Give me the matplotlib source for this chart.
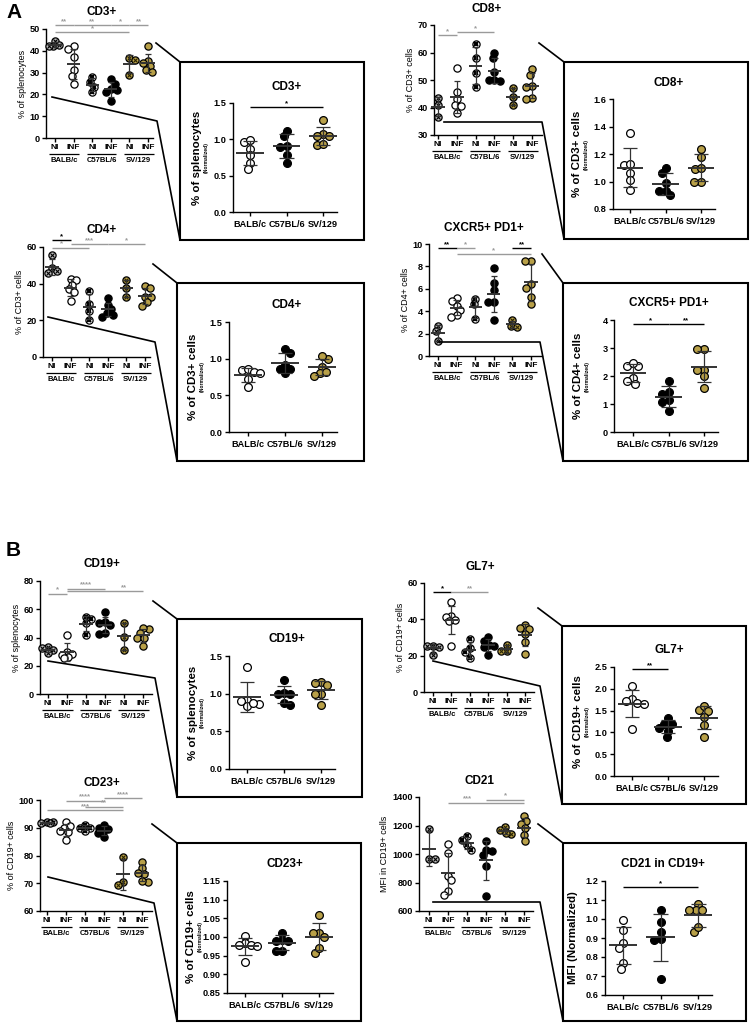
import numpy as np
import matplotlib
matplotlib.use('Agg')
import matplotlib.pyplot as plt
from matplotlib.lines import Line2D
from matplotlib.patches import Rectangle
import matplotlib.transforms as mtrans
from matplotlib import font_manager

names = {f.name for f in font_manager.fontManager.ttflist}
NARROW = 'Liberation Sans Narrow' in names
plt.rcParams['font.family'] = ['Liberation Sans Narrow' if NARROW else 'Liberation Sans', 'DejaVu Sans']
plt.rcParams['font.weight'] = 'bold'
K = 1.0 if NARROW else 0.86

# ---------------- data ----------------
strains = ['BALB/c', 'C57BL/6', 'SV/129']
conditions = ['NI', 'INF']

cd3_raw = [[44.5, 42.0, 42.5, 42.0], [42, 41, 37, 31, 28.5, 25], [28, 25.5, 23.5, 21],
           [27, 25, 22.5, 22, 21, 17], [36.5, 36, 29], [42, 35.5, 34.5, 33, 31, 30.5]]
cd3_norm = [[0.97, 0.99, 0.87, 0.78, 0.67, 0.59], [1.04, 1.12, 0.91, 0.90, 0.79, 0.68],
            [1.26, 1.08, 1.04, 1.05, 0.92, 0.93]]
cd8_raw = [[43.5, 41, 36.5], [54.5, 45.5, 43, 41, 40.5, 38], [63, 58, 52.5, 47.5],
           [60, 58, 53, 50, 50, 49.5], [47, 44, 41], [54, 52, 48, 47.5, 43.5, 43]]
cd8_norm = [[1.35, 1.12, 1.13, 1.06, 1.01, 0.94], [1.06, 1.10, 0.93, 0.99, 0.90, 0.93],
            [1.24, 1.18, 1.09, 1.10, 1.00, 1.00]]
cd4_raw = [[55.5, 48.5, 47, 46], [42.5, 42, 39.5, 37, 35.5, 30.5], [36, 29, 25, 20],
           [32, 28.5, 26, 24, 23, 22], [42, 37.5, 33], [39, 37.5, 33, 32.5, 30, 28]]
cd4_norm = [[0.84, 0.86, 0.82, 0.80, 0.72, 0.62], [1.08, 1.13, 0.91, 0.86, 0.86, 0.80],
            [1.00, 1.04, 0.89, 0.81, 0.82, 0.76]]
tfh_raw = [[2.7, 2.2, 1.3], [5.2, 4.9, 4.5, 4.1, 3.7, 3.5], [5.1, 4.6, 3.3],
           [7.9, 6.5, 5.9, 4.8, 4.8, 3.2], [3.2, 2.7, 2.6], [8.5, 8.5, 6.4, 6.1, 5.3, 4.6]]
tfh_norm = [[2.35, 2.36, 2.48, 1.94, 1.73, 1.82], [1.83, 1.43, 1.34, 1.15, 1.07, 0.74],
            [2.97, 2.97, 2.23, 2.23, 2.0, 1.58]]
cd19_raw = [[33.5, 32.5, 31, 29], [42, 29.5, 28, 27.5, 26, 25.5], [54.5, 53, 50, 42],
            [58, 51, 50, 49, 43.5, 42.5], [50.5, 40.5, 31.5], [46, 46.5, 43, 39.5, 40, 34]]
cd19_norm = [[1.36, 0.92, 0.90, 0.86, 0.83, 0.88], [1.18, 1.01, 1.0, 1.0, 0.85, 0.88],
             [1.16, 1.14, 1.12, 1.0, 1.0, 0.85]]
gl7_raw = [[25.5, 25.5, 25, 20.5], [49.5, 42, 41.5, 39.5, 39, 25.5], [29, 24, 22, 18.5],
           [30.5, 28, 26, 25.5, 24.5, 20.5], [26, 22.5, 22.5], [37, 35.5, 34.5, 32, 27.5, 21]]
gl7_norm = [[2.06, 1.76, 1.68, 1.66, 1.73, 1.08], [1.32, 1.2, 1.2, 1.1, 1.04, 0.9],
            [1.51, 1.6, 1.49, 1.36, 1.17, 0.9]]
cd23_raw = [[92.2, 91.9, 91.6, 91.7], [92, 90.5, 90, 89, 88.5, 85.5], [91, 90, 90, 88.8],
            [91, 90, 89.5, 88.5, 88, 86.5], [79.5, 70.5, 69.5], [77.8, 75.4, 73.5, 73.8, 70.6, 70.8]]
cd23_norm = [[1.002, 0.985, 0.978, 0.978, 0.975, 0.933], [1.012, 0.99, 0.993, 0.99, 0.962, 0.963],
             [1.059, 1.01, 1.01, 1.0, 0.958, 0.97]]
cd21_raw = [[1178, 968, 965], [1068, 1010, 848, 815, 740, 712], [1125, 1100, 1060, 1030],
            [1090, 1025, 1020, 990, 915, 703], [1190, 1170, 1140, 1150], [1268, 1230, 1210, 1180, 1130, 1090]]
cd21_norm = [[0.997, 0.94, 0.875, 0.85, 0.767, 0.737], [1.046, 0.985, 0.929, 0.894, 0.892, 0.682],
             [1.081, 1.05, 1.05, 1.05, 0.932, 0.958]]

# y tick values
cd3_raw_yticks = [0, 10, 20, 30, 40, 50]
cd3_norm_yticks = [0.0, 0.5, 1.0, 1.5]
cd8_raw_yticks = [30, 40, 50, 60, 70]
cd8_norm_yticks = [0.8, 1.0, 1.2, 1.4, 1.6]
cd4_raw_yticks = [0, 20, 40, 60]
cd4_norm_yticks = [0.0, 0.5, 1.0, 1.5]
tfh_raw_yticks = [0, 2, 4, 6, 8, 10]
tfh_norm_yticks = [0, 1, 2, 3, 4]
cd19_raw_yticks = [0, 20, 40, 60, 80]
cd19_norm_yticks = [0.0, 0.5, 1.0, 1.5]
gl7_raw_yticks = [0, 20, 40, 60]
gl7_norm_yticks = [0.0, 0.5, 1.0, 1.5, 2.0, 2.5]
cd23_raw_yticks = [60, 70, 80, 90, 100]
cd23_norm_yticks = [0.85, 0.90, 0.95, 1.00, 1.05, 1.10, 1.15]
cd21_raw_yticks = [600, 800, 1000, 1200, 1400]
cd21_norm_yticks = [0.6, 0.7, 0.8, 0.9, 1.0, 1.1, 1.2]

# significance bars: (x1, x2, y, label, colour[, star x])
cd3_raw_sig = [(0, 1, 51.8, '**', 'g'), (1, 3, 51.8, '**', 'g'), (3, 4, 51.8, '*', 'g'),
               (4, 5, 51.8, '**', 'g'), (0, 4, 48.6, '*', 'g')]
cd3_norm_sig = [(0, 2, 1.44, '*', 'k')]
cd8_raw_sig = [(0, 1, 66.4, '*', 'g'), (1, 3, 67.4, '*', 'g')]
cd8_norm_sig = []
cd4_raw_sig = [(0, 1, 63.6, '*', 'k'), (0, 2, 59.6, '*', 'g', 0.5), (1, 3, 61.4, '***', 'g'),
               (3, 5, 61.4, '*', 'g')]
cd4_norm_sig = []
tfh_raw_sig = [(0, 1, 9.6, '**', 'k'), (1, 2, 9.6, '*', 'g'), (1, 5, 9.1, '*', 'g', 3),
               (4, 5, 9.6, '**', 'k')]
tfh_norm_sig = [(0, 1, 3.84, '*', 'k'), (1, 2, 3.84, '**', 'k')]
cd19_raw_sig = [(0, 1, 71.0, '*', 'g'), (1, 3, 74.6, '****', 'g'), (1, 5, 72.6, '**', 'g', 4)]
cd19_norm_sig = []
gl7_raw_sig = [(0, 1, 54.8, '*', 'k'), (1, 3, 54.8, '**', 'g')]
gl7_norm_sig = [(0, 1, 2.46, '**', 'k')]
cd23_raw_sig = [(1, 3, 99.8, '****', 'g'), (3, 5, 100.6, '****', 'g'), (2, 4, 97.6, '**', 'g'),
                (0, 4, 96.4, '***', 'g')]
cd23_norm_sig = []
cd21_raw_sig = [(1, 5, 1360, '***', 'g', 2), (3, 5, 1381, '*', 'g')]
cd21_norm_sig = [(0, 2, 1.168, '*', 'k')]

# ---------------- layout (pixels) ----------------
W, H = 752, 1026
fig = plt.figure(figsize=(W / 100, H / 100), dpi=100)
fig.patch.set_facecolor('white')

GOLD = '#b8a048'
FACE = ['white', 'black', GOLD]
NI_FACE = ['#bdbdbd', 'white', GOLD]
NI_X = [('k', 0.8), ('k', 1.5), ('#2a2400', 0.8)]
GRAY = '#9a9a9a'
ERR = '#333333'

FS_TITLE = 9.8 * K
FS_TICK = 7.6 * K
FS_COND = 7.0 * K
FS_GROUP = 6.4 * K
FS_YL_RAW = 7.5 * K
FS_YL_NORM = 9.6 * K
FS_SUB = 4.2 * K
FS_STAR = 6.5 * K

LAYOUT = [
    dict(raw=(46, 29, 153, 138), raw_t=(55, 148), title_raw=(102, 12),
         norm=(233, 103, 337, 212), norm_t=(250, 323), title_norm=(287, 87),
         frame=(180, 62, 364, 240), cone1=[(156, 43), (180, 62)], cone2=[(52, 97), (157, 121), (180, 240)]),
    dict(raw=(434, 25, 542, 135), raw_t=(438, 532), title_raw=(487, 9),
         norm=(613, 99, 715, 209), norm_t=(630, 701), title_norm=(669, 83),
         frame=(564, 62, 748, 239), cone1=[(539, 43), (564, 62)], cone2=[(444, 122), (542, 122), (564, 239)]),
    dict(raw=(43, 247, 150, 357), raw_t=(52, 145), title_raw=(102, 230),
         norm=(229, 322, 337, 432), norm_t=(248, 322), title_norm=(287, 305),
         frame=(177, 283, 364, 461), cone1=[(153, 264), (177, 283)], cone2=[(48, 317), (155, 342), (177, 461)]),
    dict(raw=(429, 244, 542, 356), raw_t=(438, 531), title_raw=(484, 228),
         norm=(614, 320, 718, 432), norm_t=(633, 704), title_norm=(669, 303),
         frame=(563, 283, 748, 461), cone1=[(542, 254), (563, 283)], cone2=[(439, 342), (540, 342), (563, 461)]),
    dict(raw=(40, 581, 152, 694), raw_t=(48, 143), title_raw=(102, 564),
         norm=(229, 656, 335, 769), norm_t=(247, 321), title_norm=(287, 639),
         frame=(177, 619, 362, 797), cone1=[(153, 601), (177, 619)], cone2=[(48, 661), (155, 678), (177, 797)]),
    dict(raw=(424, 583, 534, 692), raw_t=(433, 525), title_raw=(480, 567),
         norm=(614, 667, 718, 776), norm_t=(632, 704), title_norm=(669, 650),
         frame=(562, 626, 746, 804), cone1=[(538, 608), (562, 626)], cone2=[(433, 661), (540, 686), (562, 804)]),
    dict(raw=(40, 800, 152, 911), raw_t=(47, 142), title_raw=(102, 783),
         norm=(227, 881, 333, 993), norm_t=(245, 319), title_norm=(285, 864),
         frame=(177, 843, 361, 1021), cone1=[(152, 824), (177, 843)], cone2=[(48, 877), (154, 903), (177, 1021)]),
    dict(raw=(419, 797, 533, 911), raw_t=(429, 524), title_raw=(479, 781),
         norm=(605, 881, 712, 995), norm_t=(623, 698), title_norm=(663, 864),
         frame=(563, 843, 746, 1021), cone1=[(538, 824), (563, 843)], cone2=[(433, 902), (540, 902), (563, 1021)]),
]

PANELS = [
    (cd3_raw, cd3_norm, cd3_raw_yticks, cd3_norm_yticks, 0, 1, cd3_raw_sig, cd3_norm_sig,
     'CD3+', '% of splenocytes', '% of splenocytes', True),
    (cd8_raw, cd8_norm, cd8_raw_yticks, cd8_norm_yticks, 0, 1, cd8_raw_sig, cd8_norm_sig,
     'CD8+', '% of CD3+ cells', '% of CD3+ cells', True),
    (cd4_raw, cd4_norm, cd4_raw_yticks, cd4_norm_yticks, 0, 1, cd4_raw_sig, cd4_norm_sig,
     'CD4+', '% of CD3+ cells', '% of CD3+ cells', True),
    (tfh_raw, tfh_norm, tfh_raw_yticks, tfh_norm_yticks, 0, 0, tfh_raw_sig, tfh_norm_sig,
     'CXCR5+ PD1+', '% of CD4+ cells', '% of CD4+ cells', True),
    (cd19_raw, cd19_norm, cd19_raw_yticks, cd19_norm_yticks, 0, 1, cd19_raw_sig, cd19_norm_sig,
     'CD19+', '% of splenocytes', '% of splenocytes', True),
    (gl7_raw, gl7_norm, gl7_raw_yticks, gl7_norm_yticks, 0, 1, gl7_raw_sig, gl7_norm_sig,
     'GL7+', '% of CD19+ cells', '% of CD19+ cells', True),
    (cd23_raw, cd23_norm, cd23_raw_yticks, cd23_norm_yticks, 0, 2, cd23_raw_sig, cd23_norm_sig,
     'CD23+', '% of CD19+ cells', '% of CD19+ cells', True),
    (cd21_raw, cd21_norm, cd21_raw_yticks, cd21_norm_yticks, 0, 1, cd21_raw_sig, cd21_norm_sig,
     'CD21', 'MFI in CD19+ cells', 'MFI (Normalized)', False),
]
NORM_TITLES = ['CD3+', 'CD8+', 'CD4+', 'CXCR5+ PD1+', 'CD19+', 'GL7+', 'CD23+', 'CD21 in CD19+']


def fax(box):
    l, t, r, b = box
    return fig.add_axes([l / W, 1 - b / H, (r - l) / W, (b - t) / H])


def fpt(x, y):
    return x / W, 1 - y / H


def style(ax):
    for s in ['top', 'right']:
        ax.spines[s].set_visible(False)
    for s in ['left', 'bottom']:
        ax.spines[s].set_linewidth(1.0)
    ax.tick_params(direction='out', length=3, width=1.0, labelsize=FS_TICK, pad=1.5)
    ax.patch.set_alpha(0)


def swarm(ax, x, vals, ms, gap, maxoff):
    """Beeswarm-like horizontal spreading, limited to +-maxoff data units."""
    d = ms * fig.dpi / 72.0 * gap
    T = ax.transData
    ys = np.array([T.transform((x, v))[1] for v in vals])
    ppu = T.transform((1, 0))[0] - T.transform((0, 0))[0]
    grid = np.linspace(-maxoff * ppu, maxoff * ppu, 61)
    order = np.argsort(-np.asarray(vals), kind='stable')
    placed = []
    offs = np.zeros(len(vals))
    for i in order:
        y = ys[i]
        if placed:
            P = np.array(placed)
            dist = np.sqrt((grid[:, None] - P[:, 0]) ** 2 + (y - P[:, 1]) ** 2).min(axis=1)
            ok = dist >= d
            if ok.any():
                g = grid[ok]
                offs[i] = g[np.argmin(np.abs(g))]
            else:
                offs[i] = grid[np.argmax(dist)]
        placed.append((offs[i], y))
    return offs / ppu


def draw_group(ax, x, vals, face, ms, maxoff, ni=None):
    xs = x + swarm(ax, x, vals, ms, 0.8, maxoff)
    ax.plot(xs, vals, ls='none', marker='o', ms=ms, mfc=face, mec='k', mew=0.9,
            zorder=3, clip_on=False)
    if ni is not None:
        col, mw = ni
        ax.plot(xs, vals, ls='none', marker='x', ms=ms * 0.55, mec=col, mew=mw,
                zorder=3.5, clip_on=False)


def draw_err(ax, x, vals, mw, cw):
    m = np.mean(vals)
    s = np.std(vals, ddof=1)
    kw = dict(color=ERR, zorder=4, clip_on=False, solid_capstyle='butt')
    ax.plot([x - mw, x + mw], [m, m], lw=1.4, **kw)
    ax.plot([x, x], [m - s, m + s], lw=0.9, **kw)
    ax.plot([x - cw, x + cw], [m + s, m + s], lw=0.9, **kw)
    ax.plot([x - cw, x + cw], [m - s, m - s], lw=0.9, **kw)


def draw_sig(ax, sig):
    for item in sig:
        x1, x2, y, lab, c = item[:5]
        sx = item[5] if len(item) > 5 else (x1 + x2) / 2.0
        col = GRAY if c == 'g' else 'k'
        ax.plot([x1, x2], [y, y], color=col, lw=1.0, clip_on=False, zorder=5,
                solid_capstyle='butt')
        ax.text(sx, y, lab, color=col, fontsize=FS_STAR, ha='center', va='bottom',
                clip_on=False, zorder=5)


def fmt(v, d):
    return f'{v:.{d}f}'


def px_offset(dx, dy):
    return mtrans.ScaledTranslation(dx / 100.0, -dy / 100.0, fig.dpi_scale_trans)


for L, P, ntitle in zip(LAYOUT, PANELS, NORM_TITLES):
    (raw, norm, ryt, nyt, rdec, ndec, rsig, nsig, title, rlab, nlab, sub) = P

    # ---------- raw panel ----------
    ax = fax(L['raw'])
    style(ax)
    l, t, r, b = L['raw']
    t0, t5 = L['raw_t']
    u = (t5 - t0) / 5.0
    ax.set_xlim(-(t0 - l) / u, 5 + (r - t5) / u)
    ax.set_ylim(ryt[0], ryt[-1])
    ax.set_yticks(ryt)
    ax.set_yticklabels([fmt(v, rdec) for v in ryt])
    ax.set_xticks(range(6))
    ax.set_xticklabels(conditions * 3, fontsize=FS_COND)
    ax.tick_params(axis='x', pad=1.5)
    ax.set_ylabel(rlab, fontsize=FS_YL_RAW, labelpad=2)
    for i, vals in enumerate(raw):
        s = i // 2
        if i % 2 == 0:
            draw_group(ax, i, vals, NI_FACE[s], 5.2, 0.32, NI_X[s])
        else:
            draw_group(ax, i, vals, FACE[s], 5.2, 0.32)
        draw_err(ax, i, vals, 0.36, 0.17)
    bl = mtrans.blended_transform_factory(ax.transData, ax.transAxes)
    for s in range(3):
        ax.plot([2 * s - 0.3, 2 * s + 1.3], [0, 0], color='k', lw=0.9, clip_on=False,
                transform=bl + px_offset(0, 16), solid_capstyle='butt')
        ax.text(2 * s + 0.5, 0, strains[s], fontsize=FS_GROUP, ha='center', va='center',
                transform=bl + px_offset(0, 22.5))
    draw_sig(ax, rsig)
    fig.text(*fpt(*L['title_raw']), title, fontsize=FS_TITLE, ha='center', va='center')

    # ---------- normalized panel ----------
    ax2 = fax(L['norm'])
    style(ax2)
    l, t, r, b = L['norm']
    t0, t2 = L['norm_t']
    u = (t2 - t0) / 2.0
    ax2.set_xlim(-(t0 - l) / u, 2 + (r - t2) / u)
    ax2.set_ylim(nyt[0], nyt[-1])
    ax2.set_yticks(nyt)
    ndig = 2 if any(abs(v * 10 - round(v * 10)) > 1e-6 for v in nyt) else ndec
    ax2.set_yticklabels([fmt(v, ndig) for v in nyt])
    ax2.set_xticks(range(3))
    ax2.set_xticklabels(strains, fontsize=FS_TICK)
    ax2.tick_params(axis='x', pad=2.5)
    for s, vals in enumerate(norm):
        draw_group(ax2, s, vals, FACE[s], 5.6, 0.4)
        draw_err(ax2, s, vals, 0.38, 0.2)
    draw_sig(ax2, nsig)
    if sub:
        ax2.text(0, 0.5, nlab, rotation=90, fontsize=FS_YL_NORM, ha='center', va='center',
                 transform=ax2.transAxes + px_offset(-36, 0))
        ax2.text(0, 0.5, '(Normalized)', rotation=90, fontsize=FS_SUB, ha='center', va='center',
                 transform=ax2.transAxes + px_offset(-27, 0))
    else:
        ax2.text(0, 0.5, nlab, rotation=90, fontsize=FS_YL_NORM, ha='center', va='center',
                 transform=ax2.transAxes + px_offset(-32, 0))
    fig.text(*fpt(*L['title_norm']), ntitle, fontsize=FS_TITLE, ha='center', va='center')

    # ---------- zoom frame and connector ----------
    fl, ft, fr, fb = L['frame']
    x0, y0 = fpt(fl, fb)
    x1, y1 = fpt(fr, ft)
    fig.add_artist(Rectangle((x0, y0), x1 - x0, y1 - y0, transform=fig.transFigure,
                             fill=False, lw=1.5, ec='k', zorder=1))
    for pts in (L['cone1'], L['cone2']):
        xs = [p[0] / W for p in pts]
        ys = [1 - p[1] / H for p in pts]
        fig.add_artist(Line2D(xs, ys, transform=fig.transFigure, color='k', lw=1.2))

fig.text(*fpt(6, 12), 'A', fontsize=15, ha='left', va='center')
fig.text(*fpt(6, 550), 'B', fontsize=15, ha='left', va='center')

fig.savefig('out.png', dpi=100, facecolor='white')
